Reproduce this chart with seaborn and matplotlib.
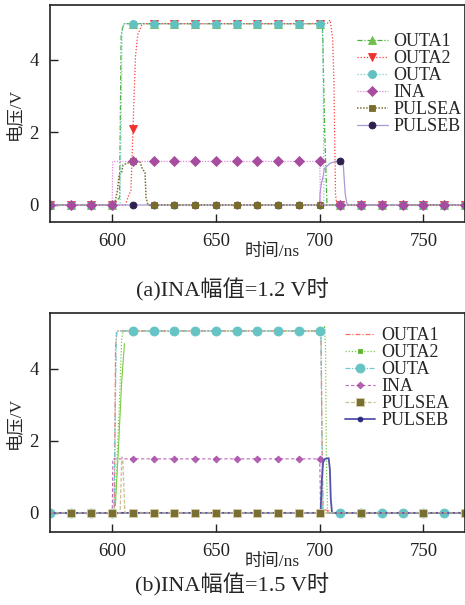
import numpy as np
import matplotlib
matplotlib.use("Agg")
import matplotlib.pyplot as plt
import seaborn as sns

# sample instants where the simulator put its markers (ns)
GRID_NS = [570, 580, 590, 600, 610, 620, 630, 640, 650, 660, 670,
           680, 690, 700, 710, 720, 730, 740, 750, 760, 770]

# ---------------- (a) INA = 1.2 V ----------------
a_outa1_grid = [0, 0, 0, 0, 5, 5, 5, 5, 5, 5, 5, 5, 5, 5, 0, 0, 0, 0, 0, 0, 0]
a_outa1_edge_t = [603.5, 604.3, 605.5, 701.3, 702.4, 703.5]
a_outa1_edge_v = [0.2, 4.7, 5.0, 5.0, 2.0, 0.0]

a_outa2_grid = [0, 0, 0, 0, 2.1, 5, 5, 5, 5, 5, 5, 5, 5, 5, 0, 0, 0, 0, 0, 0, 0]
a_outa2_edge_t = [606.3, 607.8, 609.0, 611.2, 612.3, 614.5, 703.5, 705.0, 706.2, 706.8, 707.6, 708.2]
a_outa2_edge_v = [0.0, 0.25, 0.4, 4.1, 4.7, 5.0, 5.0, 5.1, 4.6, 3.5, 0.3, 0.0]

a_outa_grid = [0, 0, 0, 0, 5, 5, 5, 5, 5, 5, 5, 5, 5, 5, 0, 0, 0, 0, 0, 0, 0]
a_outa_edge_t = [603.8, 604.8, 606.0, 700.8, 701.5, 702.0]
a_outa_edge_v = [0.0, 4.9, 5.0, 5.0, 4.6, 0.0]

a_ina_grid = [0, 0, 0, 0, 1.2, 1.2, 1.2, 1.2, 1.2, 1.2, 1.2, 1.2, 1.2, 1.2, 0, 0, 0, 0, 0, 0, 0]
a_ina_edge_t = [600.2, 700.4]
a_ina_edge_v = [1.2, 0.0]

a_pulsea_grid = [0, 0, 0, 0, 1.2, 0, 0, 0, 0, 0, 0, 0, 0, 0, 0, 0, 0, 0, 0, 0, 0]
a_pulsea_edge_t = [601.2, 602.5, 603.3, 604.5, 605.2, 607.0, 613.5, 614.5, 615.8, 616.3, 617.2]
a_pulsea_edge_v = [0.05, 0.4, 0.85, 0.9, 1.1, 1.15, 1.18, 1.0, 0.9, 0.2, 0.0]

a_pulseb_grid = [0, 0, 0, 0, 0, 0, 0, 0, 0, 0, 0, 0, 0, 0, 1.2, 0, 0, 0, 0, 0, 0]
a_pulseb_edge_t = [699.3, 700.1, 700.8, 701.5, 702.2, 704.0, 705.0, 707.5,
                   711.3, 711.8, 712.3, 713.0, 713.8]
a_pulseb_edge_v = [0.0, 0.3, 0.6, 0.75, 1.0, 1.1, 1.15, 1.2,
                   1.15, 0.7, 0.3, 0.05, 0.0]

# ---------------- (b) INA = 1.5 V ----------------
b_outa1_grid = [0, 0, 0, 0, 5.05, 5.05, 5.05, 5.05, 5.05, 5.05, 5.05, 5.05, 5.05, 5.05, 0, 0, 0, 0, 0, 0, 0]
b_outa1_edge_t = [601.0, 601.6, 602.3, 700.6, 701.1, 701.6, 704.5, 705.5]
b_outa1_edge_v = [0.0, 4.6, 5.05, 5.05, 2.0, 0.1, 0.05, 0.0]

b_outa2_grid = [0, 0, 0, 0, 5.05, 5.05, 5.05, 5.05, 5.05, 5.05, 5.05, 5.05, 5.05, 5.05, 0, 0, 0, 0, 0, 0, 0]
b_outa2_edge_t = [601.0, 602.0, 603.0, 603.8, 604.5, 605.2, 701.8, 702.3, 702.8, 703.3, 703.8]
b_outa2_edge_v = [0.0, 1.0, 2.4, 3.6, 4.8, 5.05, 5.05, 5.2, 4.6, 1.0, 0.0]
b_outa2_fast_t = [601.5, 603.0, 604.5, 605.9]
b_outa2_fast_v = [0.2, 1.8, 3.6, 4.7]

b_outa_grid = [0, 0, 0, 0, 5.05, 5.05, 5.05, 5.05, 5.05, 5.05, 5.05, 5.05, 5.05, 5.05, 0, 0, 0, 0, 0, 0, 0]
b_outa_edge_t = [600.8, 601.5, 602.0, 700.5, 701.0, 701.5]
b_outa_edge_v = [0.0, 3.0, 5.05, 5.05, 2.5, 0.0]

b_ina_grid = [0, 0, 0, 0, 1.5, 1.5, 1.5, 1.5, 1.5, 1.5, 1.5, 1.5, 1.5, 1.5, 0, 0, 0, 0, 0, 0, 0]
b_ina_edge_t = [600.3, 700.4]
b_ina_edge_v = [1.5, 0.0]

b_pulsea_grid = [0] * 21
b_pulsea_edge_t = [603.8, 604.6, 605.1, 606.1]
b_pulsea_edge_v = [0.0, 1.55, 1.45, 0.0]

b_pulseb_grid = [0] * 21
b_pulseb_edge_t = [700.4, 701.0, 701.6, 702.5, 704.3, 704.9, 705.3, 705.9]
b_pulseb_edge_v = [0.0, 0.9, 1.4, 1.5, 1.52, 1.2, 0.4, 0.0]

LABELS = ["OUTA1", "OUTA2", "OUTA", "INA", "PULSEA", "PULSEB"]


def build(grid_v, edge_t, edge_v, mark_at=None):
    # merge the marker samples with the edge points
    t = np.array(GRID_NS + edge_t, dtype=float)
    v = np.array(grid_v + edge_v, dtype=float)
    if mark_at is None:
        mark_at = GRID_NS
    is_mark = np.array([g in mark_at for g in GRID_NS] + [False] * len(edge_t))
    order = np.argsort(t, kind="stable")
    t, v, is_mark = t[order], v[order], is_mark[order]
    return t, v, list(np.nonzero(is_mark)[0])


def trace(ax, data, label, color, ls, lw=0.9, marker=None, ms=5, mfc=None, mec=None, alpha=1.0):
    t, v, marks = data
    kw = dict(marker=marker, markersize=ms, markevery=marks,
              markerfacecolor=mfc or color, markeredgecolor=mec or mfc or color,
              markeredgewidth=0.6) if marker else {}
    sns.lineplot(x=t, y=v, ax=ax, estimator=None, sort=False, color=color,
                 linestyle=ls, linewidth=lw, label=label, alpha=alpha, **kw)


sns.set_theme(style="ticks")
plt.rcParams["font.family"] = ["Liberation Serif", "Noto Sans CJK SC"]
plt.rcParams["axes.unicode_minus"] = False

fig = plt.figure(figsize=(4.65, 6.05), dpi=100)
ax_a = fig.add_axes([0.1075, 0.633, 0.8925, 0.359])
ax_b = fig.add_axes([0.1075, 0.1207, 0.8925, 0.362])

DASHDOT = (0, (4, 1.5, 1, 1.5))
DASHDOTDOT = (0, (4, 1.2, 1, 1.2, 1, 1.2))
DOT = (0, (1, 1.5))

# (a)
trace(ax_a, build(a_outa1_grid, a_outa1_edge_t, a_outa1_edge_v), "OUTA1",
      "#4db03a", DASHDOT, marker="^", ms=6, mfc="#6cbf4a")
trace(ax_a, build(a_outa2_grid, a_outa2_edge_t, a_outa2_edge_v), "OUTA2",
      "#ff3c3c", DOT, marker="v", ms=6, mfc="#f03030")
trace(ax_a, build(a_pulseb_grid, a_pulseb_edge_t, a_pulseb_edge_v), "PULSEB",
      "#a899d6", "-", marker="o", ms=5, mfc="#2e1f4f")
trace(ax_a, build(a_pulsea_grid, a_pulsea_edge_t, a_pulsea_edge_v), "PULSEA",
      "#7d7030", (0, (1, 1)), lw=1.1, marker="s", ms=5, mfc="#7a6d2c")
trace(ax_a, build(a_outa_grid, a_outa_edge_t, a_outa_edge_v), "OUTA",
      "#7ccccc", DOT, marker="o", ms=5.8, mfc="#62c0c0")
trace(ax_a, build(a_ina_grid, a_ina_edge_t, a_ina_edge_v), "INA",
      "#e08ae0", (0, (1, 1.2)), marker="D", ms=5, mfc="#a84c9f")

# (b)
trace(ax_b, build(b_outa2_grid, b_outa2_edge_t, b_outa2_edge_v), "OUTA2",
      "#7acc44", DOT, marker="s", ms=3.5, mfc="#5fb52e")
sns.lineplot(x=b_outa2_fast_t, y=b_outa2_fast_v, ax=ax_b, estimator=None,
             sort=False, color="#7acc44", linewidth=0.8)
trace(ax_b, build(b_outa1_grid, b_outa1_edge_t, b_outa1_edge_v), "OUTA1",
      "#ff6a5a", DASHDOT)
trace(ax_b, build(b_outa_grid, b_outa_edge_t, b_outa_edge_v), "OUTA",
      "#70c8c8", DASHDOTDOT, marker="o", ms=6.5, mfc="#66c4c4")
trace(ax_b, build(b_ina_grid, b_ina_edge_t, b_ina_edge_v, GRID_NS[4:14]), "INA",
      "#b050b0", (0, (3, 2)), lw=0.8, marker="D", ms=3.5, mfc="#a848a8", alpha=0.85)
trace(ax_b, build(b_pulseb_grid, b_pulseb_edge_t, b_pulseb_edge_v,
                  GRID_NS[1:14] + [720, 750, 770]), "PULSEB",
      "#5252a8", "-", lw=1.3, marker="o", ms=3.5, mfc="#2a2a80")
trace(ax_b, build(b_pulsea_grid, b_pulsea_edge_t, b_pulsea_edge_v,
                  GRID_NS[1:14] + [720, 750, 770]), "PULSEA",
      "#cbbf8f", (0, (3, 1.5)), marker="s", ms=6, mfc="#7a6f32", mec="#d8d0a8")

for ax in (ax_a, ax_b):
    ax.set_xlim(570, 770)
    ax.set_xticks([600, 650, 700, 750])
    ax.set_yticks([0, 2, 4])
    ax.tick_params(direction="in", length=6, width=1, labelsize=13.5,
                   colors="#222222", pad=8)
    for s in ax.spines.values():
        s.set_color("#222222")
        s.set_linewidth(1.2)
    ax.set_xlabel("时间/ns", fontsize=12.5)
    ax.set_ylabel("电压/V", fontsize=12.5)
    ax.xaxis.set_label_coords(0.535, -0.1)
    ax.yaxis.set_label_coords(-0.065, 0.5)

ax_a.set_ylim(-0.47, 5.52)
ax_b.set_ylim(-0.53, 5.55)

hs, ls = ax_a.get_legend_handles_labels()
hmap = dict(zip(ls, hs))
ax_a.legend([hmap[k] for k in LABELS], LABELS, loc="upper left",
            bbox_to_anchor=(0.74, 0.87), frameon=False, fontsize=13,
            handlelength=1.7, handletextpad=0.3, labelspacing=0.0,
            borderpad=0, borderaxespad=0)
hs, ls = ax_b.get_legend_handles_labels()
hmap = dict(zip(ls, hs))
ax_b.legend([hmap[k] for k in LABELS], LABELS, loc="upper left",
            bbox_to_anchor=(0.71, 0.935), frameon=False, fontsize=13,
            handlelength=1.7, handletextpad=0.35, labelspacing=0.0,
            borderpad=0, borderaxespad=0)

fig.text(0.5, 0.521, "(a)INA幅值=1.2 V时", ha="center", va="center", fontsize=16)
fig.text(0.5, 0.033, "(b)INA幅值=1.5 V时", ha="center", va="center", fontsize=16)

fig.savefig("out.png", dpi=100)
